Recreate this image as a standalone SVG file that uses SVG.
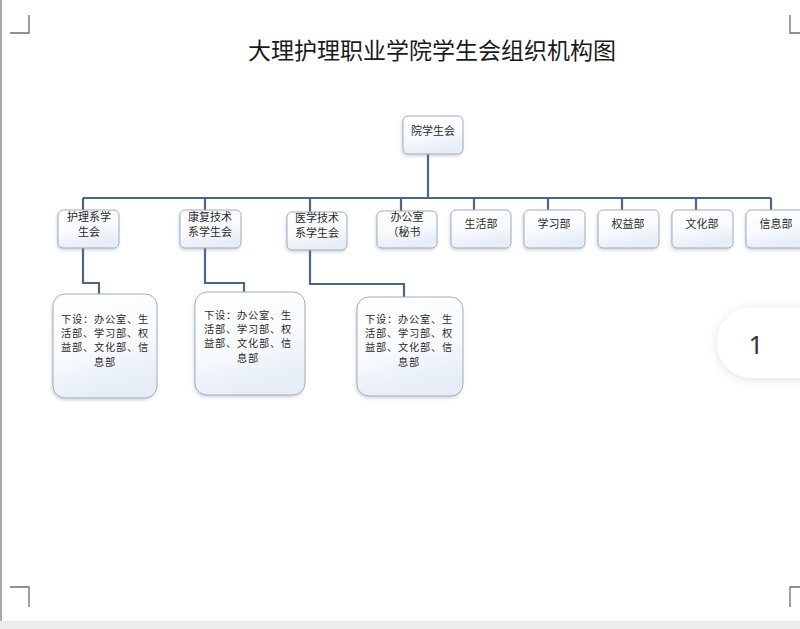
<svg xmlns="http://www.w3.org/2000/svg" width="800" height="629" viewBox="0 0 800 629">
<style>
.t{font-family:"Noto Sans CJK SC","Liberation Sans",sans-serif;font-size:11px;fill:#2a2a2a;text-anchor:middle}
.s{font-size:10.2px;letter-spacing:0.8px}
.box{fill:url(#g);stroke:#a3adb9;stroke-width:1;filter:url(#sh)}
.con{fill:none;stroke:#4b6788;stroke-width:2.2;stroke-linejoin:miter}
.mark{fill:none;stroke:#6e6e6e;stroke-width:1.3}
</style>
<defs>
<linearGradient id="g" x1="0" y1="0" x2="0.3" y2="1">
<stop offset="0" stop-color="#ffffff"/>
<stop offset="0.6" stop-color="#f8fafd"/>
<stop offset="1" stop-color="#e6edf6"/>
</linearGradient>
<filter id="sh" x="-20%" y="-20%" width="140%" height="140%">
<feDropShadow dx="-1" dy="2" stdDeviation="1.5" flood-color="#5c7aa0" flood-opacity="0.28"/>
</filter>
<filter id="psh" x="-30%" y="-40%" width="160%" height="180%">
<feDropShadow dx="0" dy="2" stdDeviation="5" flood-color="#000" flood-opacity="0.12"/>
</filter>
</defs>
<rect width="800" height="629" fill="#ffffff"/>
<line x1="1" y1="0" x2="1" y2="622" stroke="#8c8c8c" stroke-width="1.5"/>
<rect x="0" y="621" width="800" height="8" fill="#ededed"/>
<g id="corners">
<path class="mark" d="M10 33H29V15"/>
<path class="mark" d="M800 33H790V15"/>
<path class="mark" d="M10 587H29V607"/>
<path class="mark" d="M800 587H790V607"/>
</g>
<text x="432" y="59" style="font-family:'Noto Sans CJK SC','Liberation Sans',sans-serif;font-size:23px;fill:#1a1a1a;text-anchor:middle">大理护理职业学院学生会组织机构图</text>
<g id="connectors">
<path class="con" d="M428 154V198"/>
<path class="con" d="M83 198H771" stroke-width="2.6"/>
<path class="con" d="M83 198V210M205 198V210M310 198V212M401 198V211M474 198V210M548 198V210M622 198V210M696 198V210M771 198V210" stroke-width="1.8"/>
<path class="con" d="M83 248V283H99V294"/>
<path class="con" d="M205 248V283H244V292"/>
<path class="con" d="M310 250V284H404V297"/>
</g>
<g id="n-yuan"><rect class="box" x="403" y="116" width="60" height="38" rx="5"/><text class="t" x="433" y="135">院学生会</text></g>
<g id="n-huli"><rect class="box" x="58" y="210" width="61" height="38" rx="5"/><text class="t" x="89" y="221">护理系学</text><text class="t" x="89" y="236">生会</text></g>
<g id="n-kangfu"><rect class="box" x="180" y="210" width="61" height="38" rx="5"/><text class="t" x="210" y="221">康复技术</text><text class="t" x="210" y="236">系学生会</text></g>
<g id="n-yixue"><rect class="box" x="287" y="212" width="60" height="38" rx="5"/><text class="t" x="317" y="222">医学技术</text><text class="t" x="317" y="237">系学生会</text></g>
<g id="n-bangong"><rect class="box" x="377" y="211" width="60" height="37" rx="5"/><text class="t" x="407" y="221">办公室</text><text class="t" x="404" y="236">（秘书</text></g>
<g id="n-shenghuo"><rect class="box" x="451" y="210" width="60" height="38" rx="5"/><text class="t" x="481" y="228">生活部</text></g>
<g id="n-xuexi"><rect class="box" x="524" y="210" width="61" height="38" rx="5"/><text class="t" x="554" y="228">学习部</text></g>
<g id="n-quanyi"><rect class="box" x="598" y="210" width="61" height="38" rx="5"/><text class="t" x="628" y="228">权益部</text></g>
<g id="n-wenhua"><rect class="box" x="672" y="210" width="61" height="38" rx="5"/><text class="t" x="702" y="228">文化部</text></g>
<g id="n-xinxi"><rect class="box" x="746" y="210" width="62" height="38" rx="5"/><text class="t" x="776" y="228">信息部</text></g>
<g id="n-sub1"><rect class="box" x="53" y="294" width="104" height="104" rx="12"/>
<text class="t s" x="105" y="323">下设：办公室、生</text><text class="t s" x="105" y="337.2">活部、学习部、权</text><text class="t s" x="105" y="351.4">益部、文化部、信</text><text class="t s" x="105" y="365.6">息部</text></g>
<g id="n-sub2"><rect class="box" x="195" y="292" width="110" height="103" rx="12"/>
<text class="t s" x="248" y="319">下设：办公室、生</text><text class="t s" x="248" y="333.2">活部、学习部、权</text><text class="t s" x="248" y="347.4">益部、文化部、信</text><text class="t s" x="248" y="361.6">息部</text></g>
<g id="n-sub3"><rect class="box" x="357" y="297" width="106" height="99" rx="12"/>
<text class="t s" x="409" y="323">下设：办公室、生</text><text class="t s" x="409" y="337.2">活部、学习部、权</text><text class="t s" x="409" y="351.4">益部、文化部、信</text><text class="t s" x="409" y="365.6">息部</text></g>
<g id="pill"><rect x="717" y="307" width="130" height="71" rx="35" fill="#ffffff" filter="url(#psh)"/>
<text x="756" y="354" style="font-family:'Noto Sans','Liberation Sans',sans-serif;font-size:26px;fill:#333;text-anchor:middle">1</text></g>
</svg>
